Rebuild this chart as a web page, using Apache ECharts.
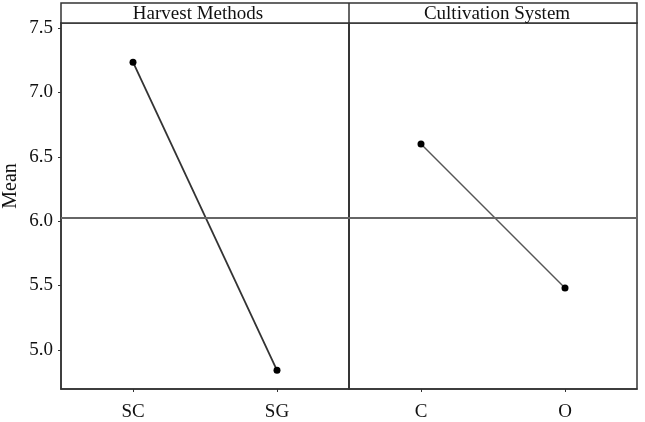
<!DOCTYPE html>
<html>
<head>
<meta charset="utf-8">
<script src="https://cdn.jsdelivr.net/npm/echarts@6/dist/echarts.min.js"></script>
<style>html,body{margin:0;padding:0;background:#fff}#c{width:645px;height:422px}</style>
</head>
<body>
<div id="c"></div>
<script>
const panelTitles = ['Harvest Methods', 'Cultivation System'];
const harvestCats = ['SC', 'SG'];
const harvestMeans = [7.235, 4.84];
const cultCats = ['C', 'O'];
const cultMeans = [6.60, 5.48];
const grandMean = 6.03;
const yTicks = [5.0, 5.5, 6.0, 6.5, 7.0, 7.5];
const yMin = 4.695, yMax = 7.54;

const font = 'Liberation Serif';
const chart = echarts.init(document.getElementById('c'));

function yAxisOpt(idx, showLabels) {
  return {
    type: 'value', gridIndex: idx, min: yMin, max: yMax,
    splitLine: {show: false},
    axisLine: {show: true, lineStyle: {color: '#333', width: 1.5}},
    axisTick: {show: showLabels, length: 3, lineStyle: {color: '#333'}, customValues: yTicks},
    axisLabel: {show: showLabels, customValues: yTicks, fontFamily: font, fontSize: 19, color: '#111', margin: 8,
      formatter: v => v.toFixed(1)}
  };
}
function xAxisOpt(idx, cats) {
  return {
    type: 'category', gridIndex: idx, data: cats, boundaryGap: true,
    axisLine: {show: true, lineStyle: {color: '#333', width: 1.5}},
    axisTick: {show: true, alignWithLabel: true, length: 3, lineStyle: {color: '#333'}},
    axisLabel: {fontFamily: font, fontSize: 19, color: '#111', margin: 14},
    splitLine: {show: false}
  };
}
const refLine = {
  silent: true, symbol: 'none', label: {show: false},
  lineStyle: {color: '#666', width: 2, type: 'solid'},
  data: [{yAxis: grandMean}]
};

chart.setOption({
  animation: false,
  grid: [
    {left: 61, right: 296, top: 23, bottom: 32, show: true, borderColor: '#333', borderWidth: 1.5},
    {left: 349, right: 8, top: 23, bottom: 32, show: true, borderColor: '#333', borderWidth: 1.5}
  ],
  xAxis: [xAxisOpt(0, harvestCats), xAxisOpt(1, cultCats)],
  yAxis: [yAxisOpt(0, true), yAxisOpt(1, false)],
  series: [
    {type: 'line', xAxisIndex: 0, yAxisIndex: 0, data: harvestMeans,
      symbol: 'circle', symbolSize: 7, itemStyle: {color: '#000'},
      lineStyle: {color: '#333', width: 1.8}, markLine: refLine},
    {type: 'line', xAxisIndex: 1, yAxisIndex: 1, data: cultMeans,
      symbol: 'circle', symbolSize: 7, itemStyle: {color: '#000'},
      lineStyle: {color: '#555', width: 1.5}, markLine: refLine}
  ],
  graphic: [
    {type: 'rect', shape: {x: 61, y: 3, width: 576, height: 20},
      style: {fill: '#fff', stroke: '#333', lineWidth: 1.5}},
    {type: 'line', shape: {x1: 349, y1: 3, x2: 349, y2: 23},
      style: {stroke: '#333', lineWidth: 1.5}},
    {type: 'text', x: 198, y: 14, style: {text: panelTitles[0], fontFamily: font, fontSize: 19,
      fill: '#111', align: 'center', verticalAlign: 'middle'}},
    {type: 'text', x: 497, y: 14, style: {text: panelTitles[1], fontFamily: font, fontSize: 19,
      fill: '#111', align: 'center', verticalAlign: 'middle'}},
    {type: 'text', x: 11, y: 186, rotation: Math.PI / 2, style: {text: 'Mean', fontFamily: font, fontSize: 20,
      fill: '#111', align: 'center', verticalAlign: 'middle'}}
  ]
});
</script>
</body>
</html>
